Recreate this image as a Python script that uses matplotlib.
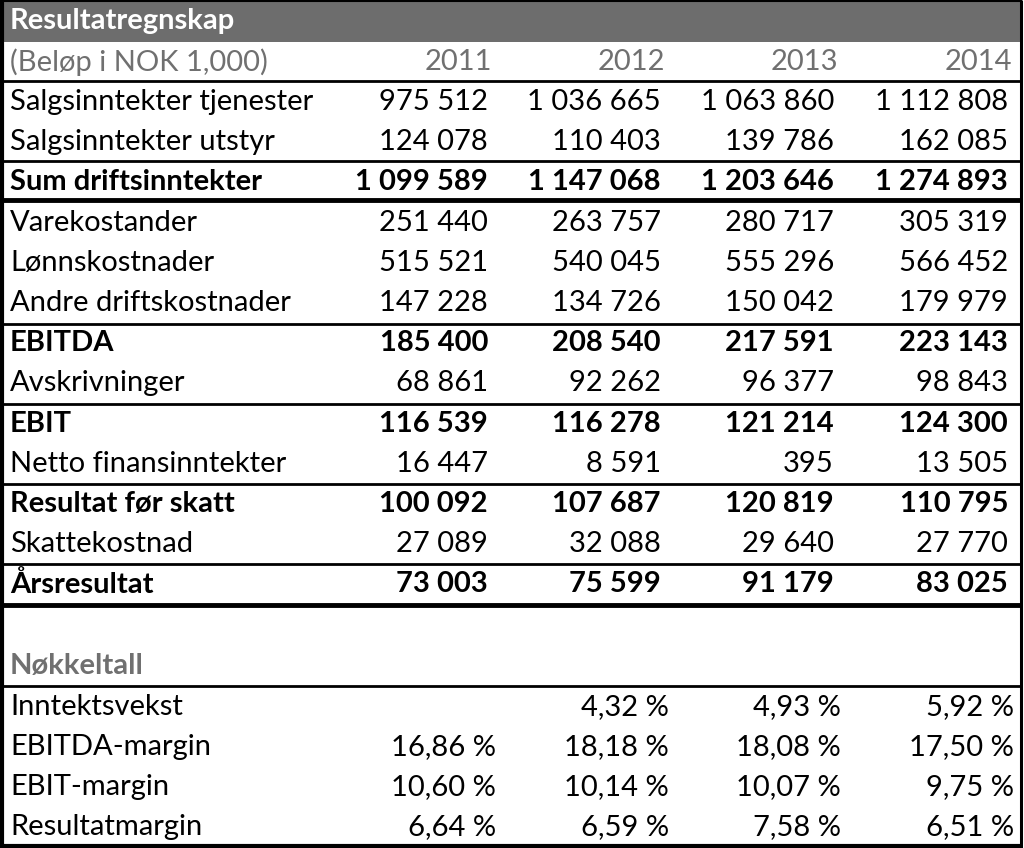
import matplotlib
matplotlib.use("Agg")
import matplotlib.pyplot as plt

plt.rcParams['font.family'] = ['Lato', 'DejaVu Sans']

title = "Resultatregnskap"
unit_label = "(Beløp i NOK 1,000)"
years = ["2011", "2012", "2013", "2014"]

row_labels = ["Salgsinntekter tjenester", "Salgsinntekter utstyr", "Sum driftsinntekter",
              "Varekostander", "Lønnskostnader", "Andre driftskostnader", "EBITDA",
              "Avskrivninger", "EBIT", "Netto finansinntekter", "Resultat før skatt",
              "Skattekostnad", "Årsresultat"]
bold_rows = ["Sum driftsinntekter", "EBITDA", "EBIT", "Resultat før skatt", "Årsresultat"]

v2011 = [975512, 124078, 1099589, 251440, 515521, 147228, 185400, 68861, 116539, 16447, 100092, 27089, 73003]
v2012 = [1036665, 110403, 1147068, 263757, 540045, 134726, 208540, 92262, 116278, 8591, 107687, 32088, 75599]
v2013 = [1063860, 139786, 1203646, 280717, 555296, 150042, 217591, 96377, 121214, 395, 120819, 29640, 91179]
v2014 = [1112808, 162085, 1274893, 305319, 566452, 179979, 223143, 98843, 124300, 13505, 110795, 27770, 83025]

key_title = "Nøkkeltall"
key_labels = ["Inntektsvekst", "EBITDA-margin", "EBIT-margin", "Resultatmargin"]
k2011 = [None, 16.86, 10.60, 6.64]
k2012 = [4.32, 18.18, 10.14, 6.59]
k2013 = [4.93, 18.08, 10.07, 7.58]
k2014 = [5.92, 17.50, 9.75, 6.51]


def fmt_num(v):
    return f"{v:,}".replace(",", " ")


def fmt_pct(v):
    if v is None:
        return ""
    return f"{v:.2f}".replace(".", ",") + " %"


fig = plt.figure(figsize=(10.24, 8.48), dpi=100)
ax = fig.add_axes([0, 0, 1, 1])
ax.set_xlim(0, 1024)
ax.set_ylim(848, 0)
ax.axis("off")

fs = 21
num_right = [488, 661, 834, 1008]
pct_right = [496, 669, 841, 1014]
year_right = [492, 665, 838, 1012]

# header bar
ax.fill_between([0, 1022], 0, 42, color="#6d6d6d", lw=0)
ax.text(10, 21, title, color="white", fontsize=fs, fontweight="bold", va="center")
ax.text(10, 62, unit_label, color="#707070", fontsize=fs, va="center")
for x, y in zip(year_right, years):
    ax.text(x, 62, y, color="#707070", fontsize=fs, va="center", ha="right")

# income statement rows
cols = [v2011, v2012, v2013, v2014]
row_h = 40.2
y0 = 102
for i, lab in enumerate(row_labels):
    y = y0 + i * row_h
    fw = "bold" if lab in bold_rows else "normal"
    ax.text(10, y, lab, fontsize=fs, fontweight=fw, va="center", color="black")
    for x, col in zip(num_right, cols):
        ax.text(x, y, fmt_num(col[i]), fontsize=fs, fontweight=fw, va="center", ha="right")

# key figures
ax.text(10, 666, key_title, color="#707070", fontsize=fs, fontweight="bold", va="center")
kcols = [k2011, k2012, k2013, k2014]
for i, lab in enumerate(key_labels):
    y = 707 + i * 40
    ax.text(10, y, lab, fontsize=fs, va="center")
    for x, col in zip(pct_right, kcols):
        ax.text(x, y, fmt_pct(col[i]), fontsize=fs, va="center", ha="right")

# rules
thin = 2.0
for y in [81, 161, 324, 404, 484, 564, 686]:
    ax.plot([0, 1022], [y, y], color="black", lw=thin, solid_capstyle="butt")
for y in [200, 605]:
    ax.plot([0, 1022], [y, y], color="black", lw=3.5, solid_capstyle="butt")

# outer border
ax.plot([1.5, 1.5], [0, 848], color="black", lw=3, solid_capstyle="butt")
ax.plot([1020.5, 1020.5], [0, 848], color="black", lw=2.2, solid_capstyle="butt")
ax.plot([0, 1022], [846, 846], color="black", lw=3, solid_capstyle="butt")
ax.plot([0, 1022], [1, 1], color="black", lw=1.5, solid_capstyle="butt")

fig.savefig("out.png", dpi=100)
